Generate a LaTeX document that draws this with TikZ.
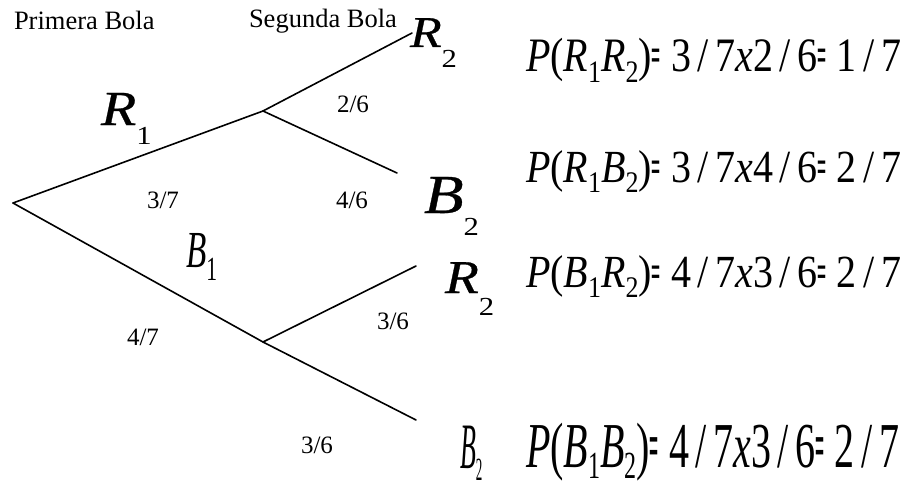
\documentclass[tikz,border=0pt]{standalone}
\usepackage{fontspec}
\setmainfont{Liberation Serif}
\newfontfamily\labfont{Liberation Serif}[ItalicFeatures={FakeBold=0.5}]
\usepackage{graphicx}
\newcommand\fsub[3][26]{\raisebox{-#2}{\fontsize{#1}{#1}\selectfont\upshape #3}}
\newcommand\feq{\scalebox{0.4}[1]{\bfseries\upshape =}}
\newcommand\fsl{\,/\,}
\newcommand\frow[3]{\scalebox{1}[#1]{\fontsize{40}{40}\selectfont #3}}
\newcommand\blab[4]{\scalebox{1.18}[1]{{\labfont\fontsize{#1}{#1}\selectfont\itshape #2}\raisebox{-#3}{\fontsize{26}{26}\selectfont\upshape #4}}}
\tikzset{
  branch/.style={line width=1.6pt, line cap=round},
  lbl/.style={anchor=base west, inner sep=0pt, outer sep=0pt},
  small/.style={lbl, font=\fontsize{25}{25}\selectfont},
  head/.style={lbl, font=\fontsize{26.5}{26.5}\selectfont},
}
\begin{document}
\begin{tikzpicture}[x=1pt,y=-1pt]
\useasboundingbox (0,0) rectangle (914,487);
% tree points
\coordinate (root) at (13,203);
\coordinate (r1) at (263,111);
\coordinate (b1) at (263,342);
\coordinate (rr) at (412,33);
\coordinate (rb) at (397,173);
\coordinate (br) at (416,266);
\coordinate (bb) at (416,420);
\draw[branch] (root) -- (r1);
\draw[branch] (root) -- (b1);
\draw[branch] (r1) -- (rr);
\draw[branch] (r1) -- (rb);
\draw[branch] (b1) -- (br);
\draw[branch] (b1) -- (bb);
% headers
\node[head] (h1) at (14,30) {Primera Bola};
\node[head] (h2) at (249,28) {Segunda Bola};
% probabilities
\node[small] (p26) at (337,113) {2/6};
\node[small] (p37) at (147,208) {3/7};
\node[small] (p46) at (336,208) {4/6};
\node[small] (p47) at (127,345) {4/7};
\node[small] (p36a) at (377,329) {3/6};
\node[small] (p36b) at (301,453) {3/6};
% outcome labels
\node[lbl] (R1) at (101,125) {\blab{49}{R}{20pt}{1}};
\node[lbl] (R2a) at (410,47) {\blab{44}{R}{21pt}{2}};
\node[lbl] (B2a) at (424,213) {\blab{55}{B}{22pt}{2}};
\node[lbl] (R2b) at (445,293) {\blab{47}{R}{22pt}{2}};
\node[lbl] (B1) at (186,267) {\scalebox{0.83}[1.3]{\fontsize{40}{40}\selectfont\itshape B\fsub[26]{10pt}{1}}};
\node[lbl] (B2b) at (460,468) {\scalebox{0.65}[1.62]{\fontsize{40}{40}\selectfont\itshape B\fsub[20]{8pt}{2}}};
% formulas
\node[lbl] (f1) at (526,72) {\frow{1.2}{9pt}{\textit{P}(\textit{R}\fsub{9pt}{1}\textit{R}\fsub{9pt}{2})\feq\ 3\fsl 7\textit{x}2\fsl 6\feq\ 1\fsl 7}};
\node[lbl] (f2) at (526,182) {\frow{1.15}{9pt}{\textit{P}(\textit{R}\fsub{9pt}{1}\textit{B}\fsub{9pt}{2})\feq\ 3\fsl 7\textit{x}4\fsl 6\feq\ 2\fsl 7}};
\node[lbl] (f3) at (526,287) {\frow{1.15}{9pt}{\textit{P}(\textit{B}\fsub{9pt}{1}\textit{R}\fsub{9pt}{2})\feq\ 4\fsl 7\textit{x}3\fsl 6\feq\ 2\fsl 7}};
\node[lbl] (f4) at (526,467) {\scalebox{1}[1.6]{\fontsize{40}{40}\selectfont\textit{P}(\textit{B}\fsub[24]{7pt}{1}\textit{B}\fsub[24]{7pt}{2})\feq\ 4\fsl 7\textit{x}3\fsl 6\feq\ 2\fsl 7}};
\end{tikzpicture}
\end{document}
